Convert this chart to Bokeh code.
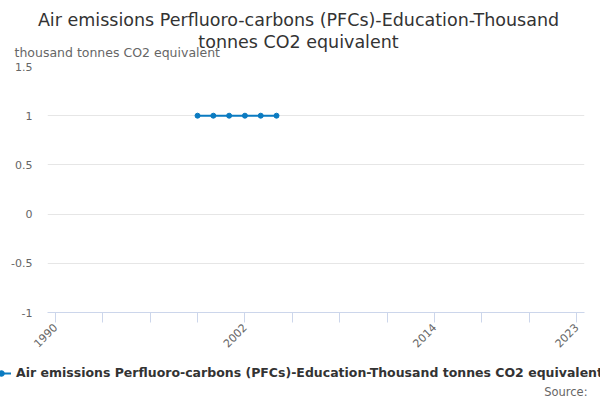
from math import pi

from bokeh.plotting import figure
from bokeh.layouts import column
from bokeh.models import Label, Legend, LegendItem, FixedTicker
from bokeh.embed import file_html
from bokeh.resources import INLINE

# data
years = [1999, 2000, 2001, 2002, 2003, 2004]
values = [1, 1, 1, 1, 1, 1]

title_lines = ["Air emissions Perfluoro-carbons (PFCs)-Education-Thousand",
               "tonnes CO2 equivalent"]
series_name = "Air emissions Perfluoro-carbons (PFCs)-Education-Thousand tonnes CO2 equivalent"
unit_label = "thousand tonnes CO2 equivalent"
source_text = "Source:"

x_ticks = list(range(1990, 2024, 3))
x_labels = {1990: "1990", 2002: "2002", 2014: "2014", 2023: "2023"}
y_ticks = [-1, -0.5, 0, 0.5, 1, 1.5]
y_labels = ["-1", "-0.5", "0", "0.5", "1", "1.5"]

FONT = "DejaVu Sans"
GREY = "#666666"
DARK = "#333333"
BLUE = "#0b7bc1"


def blank_fig(h):
    # strip whose frame fills the whole canvas, ranges keep the series out of view
    f = figure(width=600, height=h, output_backend="svg", toolbar_location=None,
               x_axis_location=None, y_axis_location=None, min_border=0,
               frame_align=False, x_range=(0, 1), y_range=(0, 1))
    f.outline_line_color = None
    f.grid.visible = False
    return f


# title strip
top = blank_fig(62)
for txt, ty in zip(title_lines, [43, 21]):
    top.add_layout(Label(x=298, y=ty, x_units="screen", y_units="screen", text=txt,
                         text_align="center", text_baseline="middle", text_font=FONT,
                         text_font_size="17.5px", text_color=DARK))
top.add_layout(Label(x=14, y=10, x_units="screen", y_units="screen", text=unit_label,
                     text_baseline="middle", text_font=FONT, text_font_size="12.5px",
                     text_color=GREY))

# main chart
p = figure(width=600, height=294, output_backend="svg", toolbar_location=None,
           x_range=(1989.5, 2023.5), y_range=(-1, 1.5), frame_align=False,
           min_border_left=47, min_border_right=16, min_border_top=4,
           min_border_bottom=44)
p.outline_line_color = None

p.xaxis.ticker = FixedTicker(ticks=x_ticks)
p.xaxis.major_label_overrides = {t: x_labels.get(t, "") for t in x_ticks}
p.xaxis.major_label_orientation = pi / 4
p.xaxis.major_label_standoff = 3
p.xaxis.axis_line_color = "#ccd6eb"
p.xaxis.major_tick_line_color = "#ccd6eb"
p.xaxis.major_tick_in = 0
p.xaxis.major_tick_out = 10
p.xaxis.minor_tick_line_color = None
p.xaxis.major_label_text_font = FONT
p.xaxis.major_label_text_font_size = "11px"
p.xaxis.major_label_text_color = GREY
p.xgrid.grid_line_color = None

p.yaxis.ticker = FixedTicker(ticks=y_ticks)
p.yaxis.major_label_overrides = dict(zip(y_ticks, y_labels))
p.yaxis.axis_line_color = None
p.yaxis.major_tick_line_color = None
p.yaxis.minor_tick_line_color = None
p.yaxis.major_tick_in = 0
p.yaxis.major_tick_out = 0
p.yaxis.major_label_standoff = 15
p.yaxis.major_label_text_font = FONT
p.yaxis.major_label_text_font_size = "11px"
p.yaxis.major_label_text_color = GREY
p.ygrid.grid_line_color = "#e6e6e6"

p.line(years, values, line_color=BLUE, line_width=2)
p.scatter(years, values, size=5, color=BLUE)

# legend + source strip
bot = blank_fig(44)
leg_line = bot.line(years, values, line_color=BLUE, line_width=2)
leg_dot = bot.scatter(years, values, size=5, color=BLUE)
legend = Legend(items=[LegendItem(label=series_name, renderers=[leg_line, leg_dot])],
                location=(-9, 20), padding=0, margin=0, spacing=0,
                glyph_width=20, glyph_height=14, label_height=14, label_standoff=5,
                border_line_color=None, background_fill_alpha=0,
                label_text_font=FONT, label_text_font_size="12.5px",
                label_text_font_style="bold", label_text_color=DARK)
bot.add_layout(legend, "center")
bot.add_layout(Label(x=587, y=9, x_units="screen", y_units="screen", text=source_text,
                     text_align="right", text_baseline="middle", text_font=FONT,
                     text_font_size="11.5px", text_color=GREY))

layout = column(top, p, bot, spacing=0)
open("out.html", "w").write(file_html(layout, INLINE))
